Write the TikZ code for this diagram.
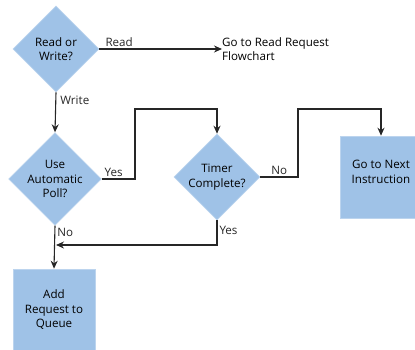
\documentclass[tikz,border=0pt]{standalone}
\usepackage{fontspec}
\setmainfont{Open Sans}
\usetikzlibrary{shapes.geometric,arrows.meta}
\definecolor{flowblue}{RGB}{159,194,231}
\begin{document}
\begin{tikzpicture}[x=1pt,y=-1pt,
  every node/.style={font=\fontsize{11.6}{14.5}\selectfont},
  decision/.style={diamond,fill=flowblue,draw=flowblue!70!white,line width=0.6pt,minimum width=86pt,minimum height=86pt,aspect=1,inner sep=0pt,align=center},
  procbox/.style={rectangle,fill=flowblue,draw=flowblue!70!white,line width=0.6pt,minimum width=82pt,minimum height=82pt,inner sep=0pt,align=center},
  conn/.style={line width=1.1pt,black!85},
  arr/.style={conn,-{Stealth[length=8pt,width=7pt]}},
  lbl/.style={inner sep=2pt}]
\useasboundingbox (0,0) rectangle (415,349);
\clip (0,0) rectangle (415,349);
\node[decision] (d1) at (56,49) {Read or\\Write?};
\node[decision] (d2) at (55,179) {Use\\Automatic\\Poll?};
\node[decision] (d3) at (217,177) {Timer\\Complete?};
\node[procbox,label={[yshift=5pt,align=center]center:Go to Next\\Instruction}] (b1) at (381,177) {};
\node[procbox] (b2) at (54,310) {Add\\Request to\\Queue};
\node[align=left,anchor=west,inner sep=0pt] (rr) at (222,49) {Go to Read Request\\Flowchart};
\coordinate (c1) at (135,109);
\coordinate (c2) at (298,109);
\coordinate (c3) at (56,245);
\draw[arr] (d1.east) -- node[lbl,pos=0.03,anchor=south west]{Read} (rr.west);
\draw[arr] (d1.south) -- node[lbl,right,pos=0.2,xshift=2pt]{Write} (d2.north);
\draw[arr] (d2.east) -| node[lbl,above,pos=0.18]{Yes} (c1) -| (d3.north);
\draw[arr] (d3.east) -| node[lbl,above,pos=0.25]{No} (c2) -| (b1.north);
\draw[arr] (d3.south) |- node[lbl,right,pos=0.2]{Yes} (c3);
\draw[arr] (d2.south) -- node[lbl,right,pos=0.15]{No} (b2.north);
\end{tikzpicture}
\end{document}
